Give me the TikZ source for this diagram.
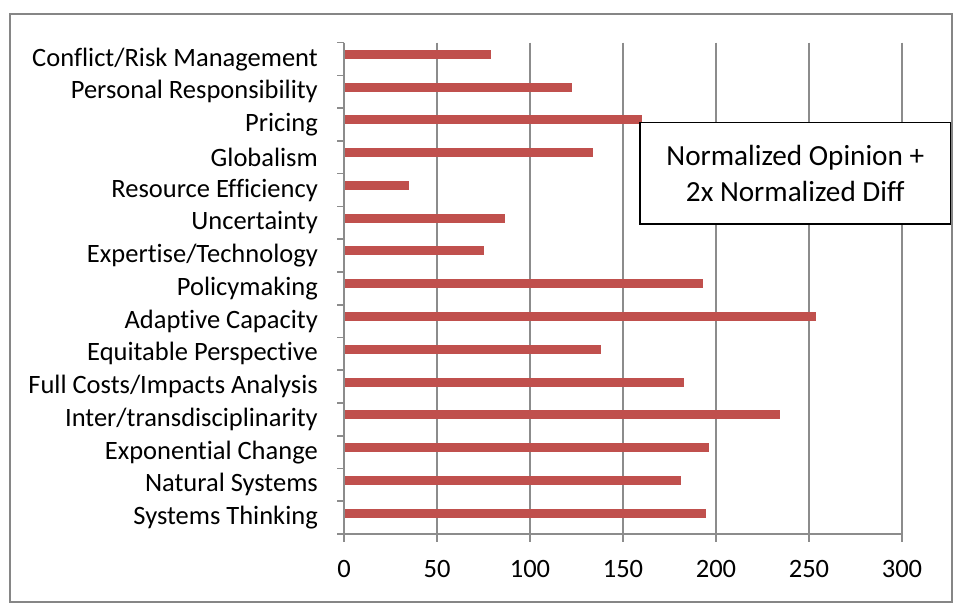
\documentclass[tikz,border=0pt]{standalone}
\usepackage{fontspec}
\setmainfont{Carlito}[Ligatures=NoCommon]
\definecolor{barred}{HTML}{C0504D}
\definecolor{gridgray}{HTML}{8C8C8C}
\definecolor{framegray}{HTML}{868686}
\tikzset{
  gridline/.style={draw=gridgray, line width=1.6bp},
  axisline/.style={draw=gridgray, line width=1.6bp},
  barfill/.style={fill=barred},
  catlabel/.style={anchor=east, inner sep=0pt, font=\fontsize{26.6}{30}\selectfont},
  numlabel/.style={anchor=center, inner sep=0pt, font=\fontsize{26.6}{30}\selectfont},
  legendbox/.style={draw=black, line width=1.6bp, fill=white, minimum width=310.7bp, minimum height=101.3bp, align=center, inner sep=0pt, font=\fontsize{29.3}{36.5}\selectfont}
}
\begin{document}
\begin{tikzpicture}[x=1bp,y=-1bp]
\useasboundingbox (0,0) rectangle (956,604);
\fill[white] (0,0) rectangle (956,604);
\draw[framegray, line width=1.6bp] (10,14) rectangle (952,602);
% vertical gridlines
\foreach \v in {50,100,...,300}{
  \draw[gridline] ({344+1.86*\v},42.7) -- ({344+1.86*\v},542);
}
% bars
\foreach \val [count=\i from 0] in {79,122.8,160,134,34.8,86.4,75.4,193.2,253.6,138,183,234.4,196.2,181.4,194.8}{
  \fill[barfill] (344,{42.7+32.75*\i+7.3}) rectangle ({344+1.86*\val},{42.7+32.75*\i+16.3});
}
% axes
\draw[axisline] (344,42.7) -- (344,542);
\draw[axisline] (337,534) -- (902,534);
\foreach \i in {0,...,14}{
  \draw[axisline] (337,{42.7+32.75*\i}) -- (344,{42.7+32.75*\i});
}
% category labels
\foreach \t [count=\i from 0] in {Conflict/Risk Management,Personal Responsibility,Pricing,Globalism,Resource Efficiency,Uncertainty,Expertise/Technology,Policymaking,Adaptive Capacity,Equitable Perspective,Full Costs/Impacts Analysis,Inter/transdisciplinarity,Exponential Change,Natural Systems,Systems Thinking}{
  \node[catlabel] (cat\i) at (318,{42.7+32.75*\i+16.4}) {\t};
}
% value labels
\foreach \v in {0,50,...,300}{
  \node[numlabel] (num\v) at ({344+1.86*\v},569) {\v};
}
% legend
\node[legendbox] (legend) at (795.3,173.3) {Normalized Opinion +\\2x Normalized Diff};
\end{tikzpicture}
\end{document}
